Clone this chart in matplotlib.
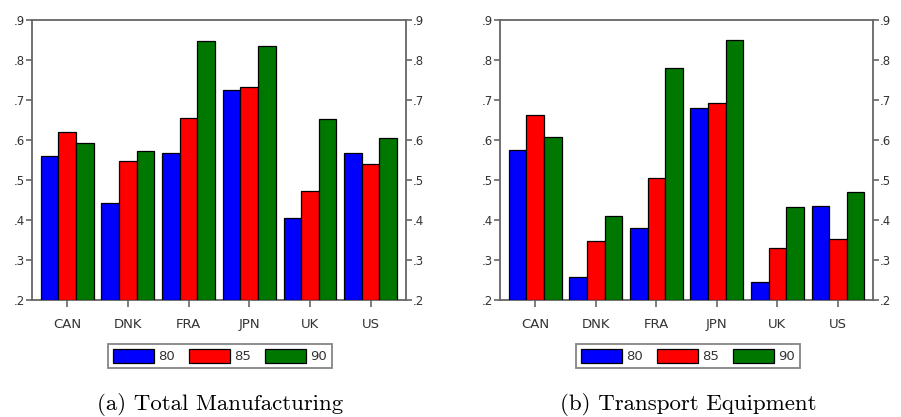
import matplotlib

matplotlib.use("Agg")
import matplotlib.pyplot as plt
import numpy as np
from matplotlib.patches import Patch
from matplotlib.ticker import FuncFormatter

countries = ["CAN", "DNK", "FRA", "JPN", "UK", "US"]
years = ["80", "85", "90"]
colors = ["#0000ff", "#ff0000", "#007800"]

total_mfg = {
    "80": [0.560, 0.443, 0.568, 0.726, 0.406, 0.567],
    "85": [0.620, 0.548, 0.656, 0.732, 0.473, 0.539],
    "90": [0.593, 0.573, 0.848, 0.836, 0.653, 0.606],
}
transport = {
    "80": [0.574, 0.258, 0.381, 0.680, 0.245, 0.436],
    "85": [0.663, 0.348, 0.505, 0.693, 0.330, 0.353],
    "90": [0.608, 0.410, 0.780, 0.849, 0.433, 0.471],
}
captions = ["(a) Total Manufacturing", "(b) Transport Equipment"]

SPINE = "#666666"
TXT = "#333333"


def _fmt(v, _pos):
    return f"{v:.1f}".lstrip("0")


def draw_panel(ax, data):
    x = np.arange(len(countries))
    w = 0.29
    for i, yr in enumerate(years):
        ax.bar(
            x + (i - 1) * w,
            np.array(data[yr]) - 0.2,
            bottom=0.2,
            width=w,
            color=colors[i],
            edgecolor="black",
            linewidth=0.9,
            zorder=3,
        )
    ax.set_xlim(-0.58, 5.58)
    ax.set_ylim(0.2, 0.9)
    ax.set_xticks(x)
    ax.set_xticklabels(countries)
    ax.set_yticks(np.arange(0.2, 0.91, 0.1))
    ax.yaxis.set_major_formatter(FuncFormatter(_fmt))
    ax.tick_params(axis="x", length=5, width=1.2, color=SPINE, labelsize=9.5,
                   labelcolor=TXT, pad=8)
    ax.tick_params(axis="y", length=4, width=1.2, color=SPINE, labelsize=8.5,
                   labelcolor=TXT, pad=1, left=True, right=True,
                   labelleft=True, labelright=True)
    for sp in ax.spines.values():
        sp.set_color(SPINE)
        sp.set_linewidth(1.3)


fig = plt.figure(figsize=(9.01, 4.17), dpi=100)
ax_a = fig.add_axes([0.0355, 0.2806, 0.415, 0.6714])
ax_b = fig.add_axes([0.555, 0.2806, 0.414, 0.6714])

handles = [Patch(facecolor=c, edgecolor="black", linewidth=0.9) for c in colors]

for ax, data, cap, cx in [
    (ax_a, total_mfg, captions[0], 220 / 901),
    (ax_b, transport, captions[1], 688 / 901),
]:
    draw_panel(ax, data)
    leg = fig.legend(
        handles,
        years,
        loc="center",
        bbox_to_anchor=(cx, 1 - 356 / 417),
        ncol=3,
        fontsize=9.5,
        frameon=True,
        fancybox=False,
        handlelength=3.1,
        handleheight=1.35,
        handletextpad=0.3,
        columnspacing=1.1,
        borderpad=0.35,
        labelcolor=TXT,
    )
    leg.get_frame().set_edgecolor(SPINE)
    leg.get_frame().set_linewidth(1.3)
    fig.text(cx, 1 - 404 / 417, cap, ha="center", va="center",
             family="cmr10", fontsize=16.5)

fig.savefig("out.png", dpi=100)
